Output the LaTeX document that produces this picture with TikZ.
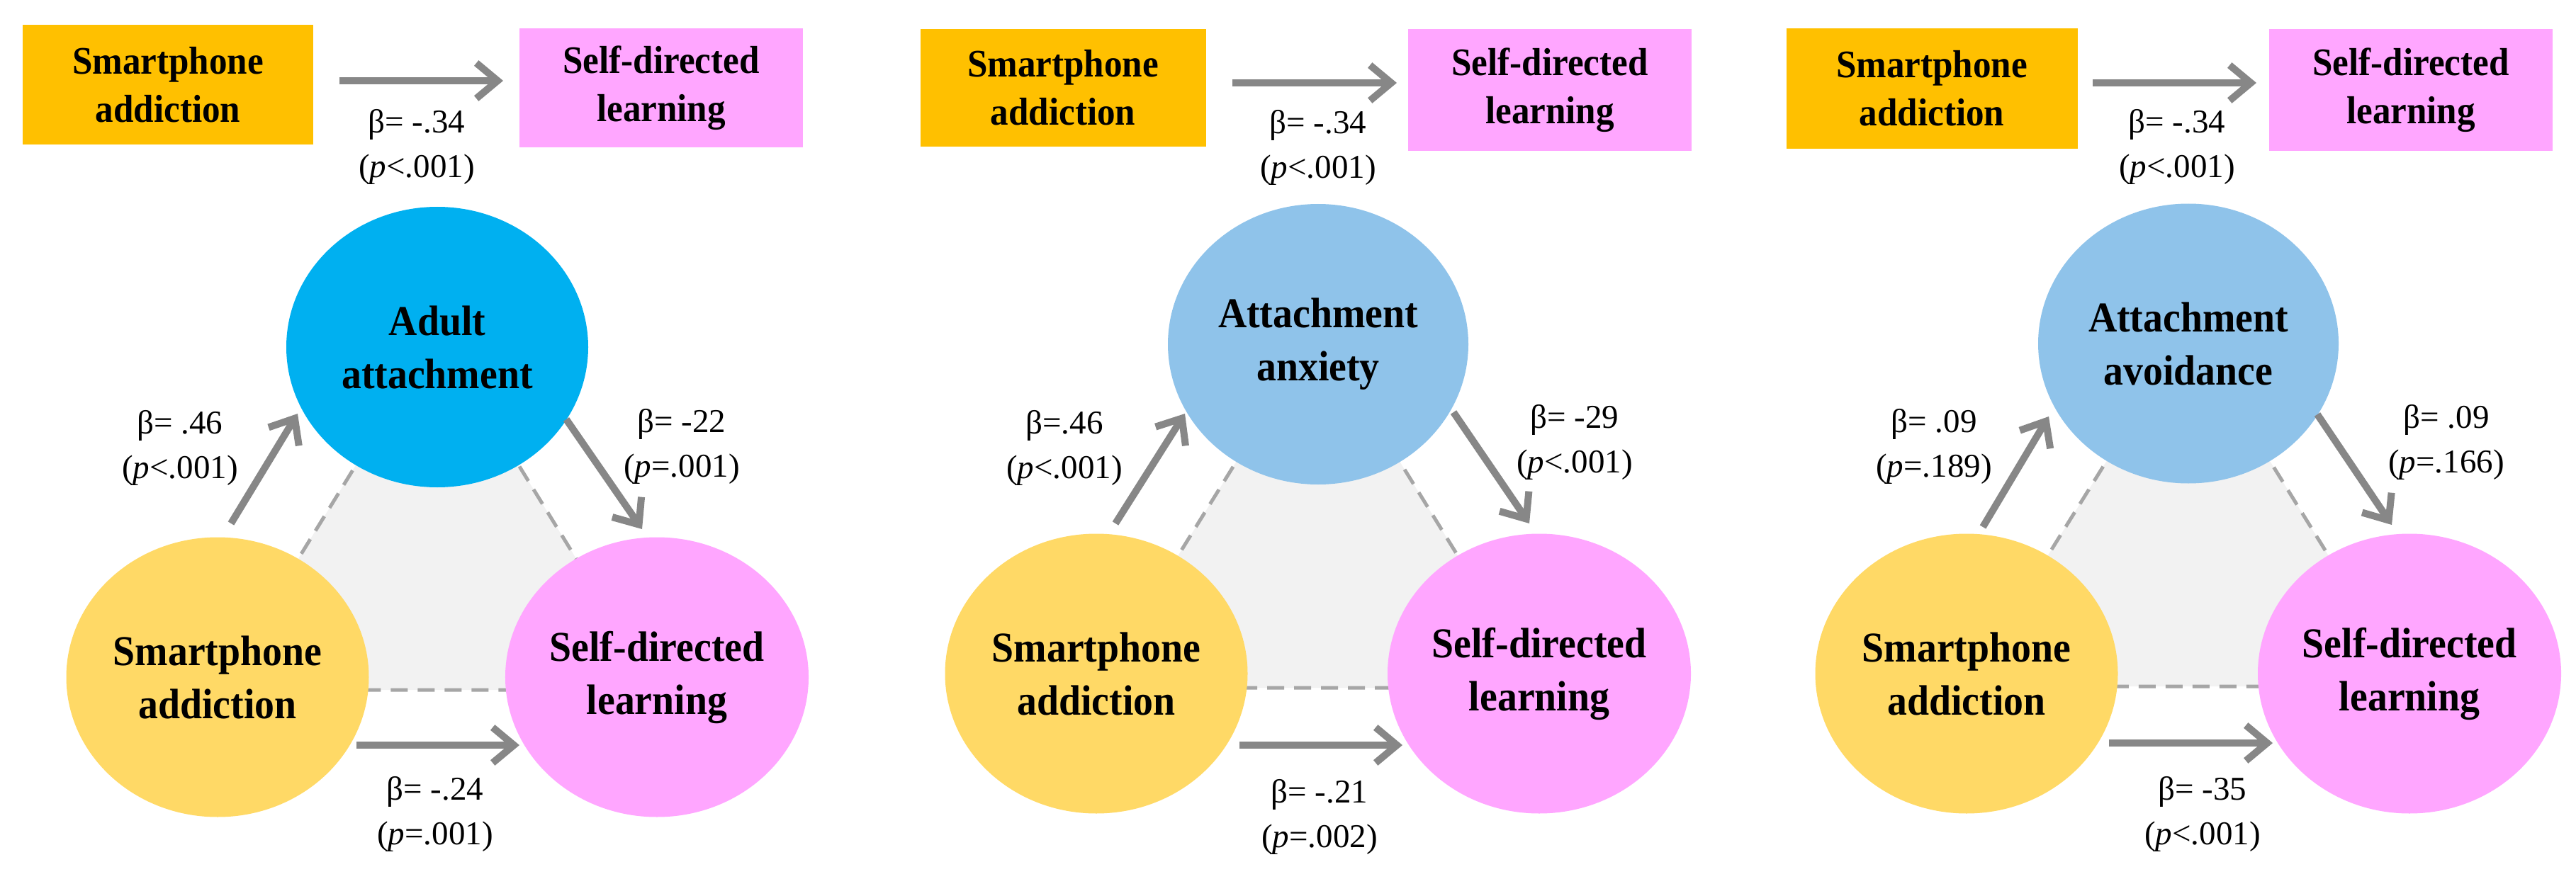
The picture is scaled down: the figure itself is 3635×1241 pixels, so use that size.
\documentclass[tikz,border=0pt]{standalone}
\usepackage{fontspec}
\setmainfont{Liberation Serif}
\newfontfamily\condfont[FakeStretch=0.93]{Liberation Serif}
\usetikzlibrary{shapes.geometric,arrows.meta}
\definecolor{boxorange}{HTML}{FFC000}
\definecolor{boxpink}{HTML}{FFA6FF}
\definecolor{ellyellow}{HTML}{FFD966}
\definecolor{ellblue}{HTML}{00B0F0}
\definecolor{elllblue}{HTML}{8FC3EA}
\definecolor{arrgray}{HTML}{878787}
\definecolor{dashgray}{HTML}{A6A6A6}
\definecolor{trifill}{HTML}{F2F2F2}
\tikzset{
  topbox/.style={rectangle, inner sep=0pt, align=center,
    font=\condfont\bfseries\fontsize{55}{68}\selectfont},
  ell/.style={ellipse, inner sep=0pt, minimum width=427pt, minimum height=395pt,
    align=center, font=\condfont\bfseries\fontsize{60}{75}\selectfont},
  lab/.style={inner sep=0pt, align=center, font=\fontsize{47}{63}\selectfont},
  arr/.style={draw=arrgray, line width=10pt, -{Straight Barb[length=30pt,width=50pt,line width=10pt]}},
  tri/.style={fill=trifill, draw=dashgray, line width=5pt, dash pattern=on 24pt off 14pt},
}
\begin{document}
\begin{tikzpicture}[x=1pt,y=-1pt]
\useasboundingbox (0,0) rectangle (3635,1241);
% ================= Panel 1 =================
\node[topbox, fill=boxorange, minimum width=410pt, minimum height=169pt] (tl1) at (237,120) {Smartphone\\addiction};
\node[topbox, fill=boxpink, minimum width=400pt, minimum height=168pt] (tr1) at (933,124) {Self-directed\\learning};
\coordinate (t1s) at (479,114);
\coordinate (t1e) at (710,114);
\draw[arr] (t1s) -- (t1e);
\node[lab] (tlab1) at (588,207) {β= -.34\\(\textit{p}<.001)};
\coordinate (v1a) at (617,470);
\coordinate (v1b) at (307,974);
\coordinate (v1c) at (927,974);
\draw[tri] (v1a) -- (v1b) -- (v1c) -- cycle;
\node[ell, fill=ellblue, minimum width=426pt, minimum height=396pt] (aa1) at (617,490) {Adult\\attachment};
\node[ell, fill=ellyellow] (sa1) at (307,956) {Smartphone\\addiction};
\node[ell, fill=boxpink] (sd1) at (927,956) {Self-directed\\learning};
\coordinate (l1s) at (326,739);
\coordinate (l1e) at (420,584);
\draw[arr] (l1s) -- (l1e);
\node[lab] (llab1) at (254,632) {β= .46\\(\textit{p}<.001)};
\coordinate (r1s) at (799,592);
\coordinate (r1e) at (906,747);
\draw[arr] (r1s) -- (r1e);
\node[lab] (rlab1) at (962,630) {β= -22\\(\textit{p}=.001)};
\coordinate (b1s) at (503,1052);
\coordinate (b1e) at (733,1052);
\draw[arr] (b1s) -- (b1e);
\node[lab] (blab1) at (614,1149) {β= -.24\\(\textit{p}=.001)};
% ================= Panel 2 =================
\node[topbox, fill=boxorange, minimum width=403pt, minimum height=166pt] (tl2) at (1500,124) {Smartphone\\addiction};
\node[topbox, fill=boxpink, minimum width=400pt, minimum height=172pt] (tr2) at (2187,127) {Self-directed\\learning};
\coordinate (t2s) at (1739,117);
\coordinate (t2e) at (1971,117);
\draw[arr] (t2s) -- (t2e);
\node[lab] (tlab2) at (1860,208) {β= -.34\\(\textit{p}<.001)};
\coordinate (v2a) at (1860,465);
\coordinate (v2b) at (1547,971);
\coordinate (v2c) at (2172,971);
\draw[tri] (v2a) -- (v2b) -- (v2c) -- cycle;
\node[ell, fill=elllblue, minimum width=424pt, minimum height=396pt] (aa2) at (1860,486) {Attachment\\anxiety};
\node[ell, fill=ellyellow] (sa2) at (1547,951) {Smartphone\\addiction};
\node[ell, fill=boxpink] (sd2) at (2172,951) {Self-directed\\learning};
\coordinate (l2s) at (1574,739);
\coordinate (l2e) at (1672,584);
\draw[arr] (l2s) -- (l2e);
\node[lab] (llab2) at (1502,632) {β=.46\\(\textit{p}<.001)};
\coordinate (r2s) at (2051,582);
\coordinate (r2e) at (2158,739);
\draw[arr] (r2s) -- (r2e);
\node[lab] (rlab2) at (2222,624) {β= -29\\(\textit{p}<.001)};
\coordinate (b2s) at (1749,1052);
\coordinate (b2e) at (1979,1052);
\draw[arr] (b2s) -- (b2e);
\node[lab] (blab2) at (1862,1153) {β= -.21\\(\textit{p}=.002)};
% ================= Panel 3 =================
\node[topbox, fill=boxorange, minimum width=411pt, minimum height=170pt] (tl3) at (2726,125) {Smartphone\\addiction};
\node[topbox, fill=boxpink, minimum width=400pt, minimum height=172pt] (tr3) at (3402,127) {Self-directed\\learning};
\coordinate (t3s) at (2953,117);
\coordinate (t3e) at (3184,117);
\draw[arr] (t3s) -- (t3e);
\node[lab] (tlab3) at (3072,207) {β= -.34\\(\textit{p}<.001)};
\coordinate (v3a) at (3088,465);
\coordinate (v3b) at (2775,969);
\coordinate (v3c) at (3400,969);
\draw[tri] (v3a) -- (v3b) -- (v3c) -- cycle;
\node[ell, fill=elllblue, minimum width=424pt, minimum height=395pt] (aa3) at (3088,485) {Attachment\\avoidance};
\node[ell, fill=ellyellow] (sa3) at (2775,951) {Smartphone\\addiction};
\node[ell, fill=boxpink] (sd3) at (3400,951) {Self-directed\\learning};
\coordinate (l3s) at (2798,744);
\coordinate (l3e) at (2891,588);
\draw[arr] (l3s) -- (l3e);
\node[lab] (llab3) at (2729,630) {β= .09\\(\textit{p}=.189)};
\coordinate (r3s) at (3270,585);
\coordinate (r3e) at (3375,741);
\draw[arr] (r3s) -- (r3e);
\node[lab] (rlab3) at (3452,624) {β= .09\\(\textit{p}=.166)};
\coordinate (b3s) at (2976,1049);
\coordinate (b3e) at (3207,1049);
\draw[arr] (b3s) -- (b3e);
\node[lab] (blab3) at (3108,1149) {β= -35\\(\textit{p}<.001)};
\end{tikzpicture}
\end{document}
